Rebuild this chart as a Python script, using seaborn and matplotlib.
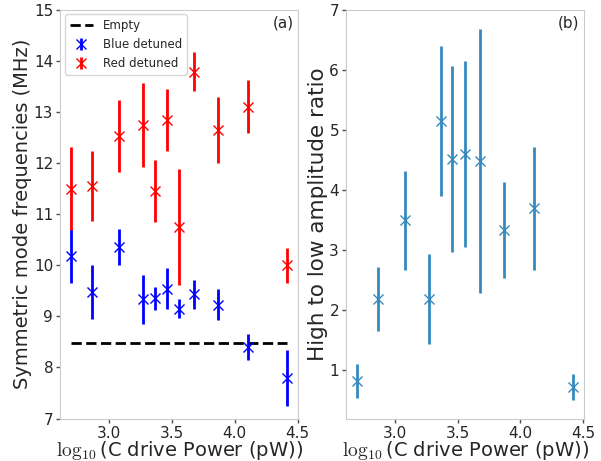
import numpy as np
import matplotlib
matplotlib.use("Agg")
import matplotlib.pyplot as plt
import seaborn as sns

# log10 of C drive power (pW)
log_power = [2.70, 2.87, 3.08, 3.27, 3.37, 3.46, 3.56, 3.68, 3.87, 4.11, 4.42]

# symmetric mode frequencies (MHz)
red_freq = [11.50, 11.55, 12.53, 12.75, 11.45, 12.84, 10.75, 13.79, 12.65, 13.10, 10.00]
red_err = [0.82, 0.68, 0.71, 0.82, 0.60, 0.61, 1.14, 0.38, 0.64, 0.52, 0.34]
blue_freq = [10.18, 9.48, 10.36, 9.33, 9.35, 9.54, 9.15, 9.43, 9.23, 8.40, 7.79]
blue_err = [0.53, 0.53, 0.35, 0.47, 0.22, 0.40, 0.18, 0.29, 0.30, 0.25, 0.55]
empty_freq = 8.48

# high to low amplitude ratio
ratio = [0.82, 2.18, 3.49, 2.18, 5.14, 4.52, 4.60, 4.48, 3.33, 3.69, 0.72]
ratio_err = [0.28, 0.53, 0.83, 0.75, 1.25, 1.55, 1.55, 2.20, 0.80, 1.03, 0.22]

sns.set_style("white")
plt.rcParams['font.family'] = ['DejaVu Sans']
plt.rcParams['mathtext.fontset'] = 'cm'
plt.rcParams['axes.edgecolor'] = '.8'

fig, (ax1, ax2) = plt.subplots(1, 2, figsize=(6.01, 4.61), dpi=100)
fig.subplots_adjust(left=0.10, right=0.972, bottom=0.092, top=0.979, wspace=0.20)

xlabel = r'$\log_{10}$(C drive Power (pW))'

# (a) mode frequencies
ax1.plot([log_power[0], log_power[-1]], [empty_freq, empty_freq], 'k--', lw=2, label='Empty')
ax1.errorbar(log_power, blue_freq, yerr=blue_err, fmt='x', color='blue',
             elinewidth=2, markersize=7, label='Blue detuned')
ax1.errorbar(log_power, red_freq, yerr=red_err, fmt='x', color='red',
             elinewidth=2, markersize=7, label='Red detuned')
ax1.set_ylim(7, 15)
ax1.set_xticks([3.0, 3.5, 4.0, 4.5])
ax1.set_xlabel(xlabel, fontsize=14, labelpad=-1)
ax1.set_ylabel('Symmetric mode frequencies (MHz)', fontsize=14, labelpad=1)
ax1.legend(loc='upper left', fontsize=8.5, frameon=True, borderaxespad=0.4)
ax1.text(0.98, 0.985, '(a)', transform=ax1.transAxes, ha='right', va='top', fontsize=11)

# (b) amplitude ratio
ax2.errorbar(log_power, ratio, yerr=ratio_err, fmt='x', color='#348ABD',
             elinewidth=2, markersize=7)
ax2.set_xticks([3.0, 3.5, 4.0, 4.5])
ax2.set_yticks([1, 2, 3, 4, 5, 6, 7])
ax2.set_xlabel(xlabel, fontsize=14, labelpad=-1)
ax2.set_ylabel('High to low amplitude ratio', fontsize=15.5, labelpad=1)
ax2.text(0.98, 0.985, '(b)', transform=ax2.transAxes, ha='right', va='top', fontsize=11)

for ax in (ax1, ax2):
    ax.tick_params(axis='both', labelsize=11, length=3, width=1, color='0.3', direction='out',
                   bottom=True, left=True, pad=2)

plt.savefig("out.png", dpi=100)
